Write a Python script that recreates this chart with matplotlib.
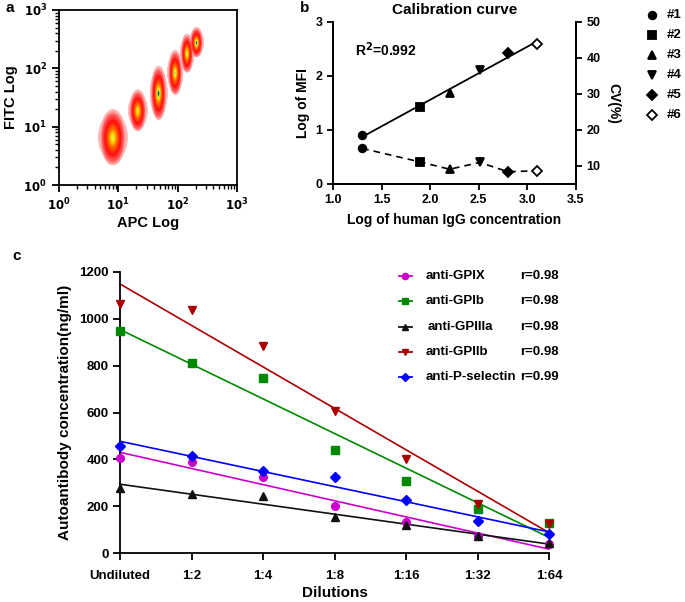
import numpy as np
import matplotlib
matplotlib.use('Agg')
import matplotlib.pyplot as plt
from matplotlib.colors import LinearSegmentedColormap
from matplotlib.ticker import LogLocator, NullFormatter, FixedLocator, FixedFormatter

plt.rcParams.update({
    'font.family': ['Liberation Sans', 'DejaVu Sans'],
    'font.weight': 'bold',
    'axes.labelweight': 'bold',
    'axes.linewidth': 1.3,
    'xtick.major.width': 1.3,
    'ytick.major.width': 1.3,
    'xtick.minor.width': 1.0,
    'ytick.minor.width': 1.0,
    'mathtext.default': 'bf',
})

W, H = 685, 602

# ---- panel a: bead clusters (log10 APC, log10 FITC, spread x, spread y)
clus_x = [0.91, 1.33, 1.68, 1.96, 2.16, 2.32]
clus_y = [0.82, 1.28, 1.58, 1.93, 2.26, 2.45]
clus_sx = [0.085, 0.055, 0.05, 0.045, 0.04, 0.04]
clus_sy = [0.19, 0.14, 0.18, 0.15, 0.13, 0.10]
clus_peak = [0.9, 0.9, 1.0, 0.95, 0.93, 1.0]

# ---- panel b: calibration curve
bead_names = ['#1', '#2', '#3', '#4', '#5', '#6']
bead_markers = ['o', 's', '^', 'v', 'D', 'D']
log_igg = [1.3, 1.9, 2.2, 2.51, 2.8, 3.1]
log_mfi = [0.91, 1.42, 1.68, 2.11, 2.42, 2.60]
cv_pct = [14.9, 11.1, 9.1, 11.0, 8.4, 8.7]

# ---- panel c: dilution series
dilutions = ['Undiluted', '1:2', '1:4', '1:8', '1:16', '1:32', '1:64']
series_names = ['anti-GPIX', 'anti-GPIb', 'anti-GPIIIa', 'anti-GPIIb', 'anti-P-selectin']
series_r = ['r=0.98', 'r=0.98', 'r=0.98', 'r=0.98', 'r=0.99']
series_colors = ['#cc00cc', '#008800', '#111111', '#aa0000', '#0000ff']
series_markers = ['o', 's', '^', 'v', 'D']
gpix = [406, 390, 323, 201, 131, 73, 38]
gpib = [948, 813, 746, 440, 309, 187, 130]
gpiiia = [278, 253, 242, 154, 120, 73, 41]
gpiib = [1063, 1036, 885, 608, 400, 209, 124]
psel = [457, 414, 349, 323, 225, 135, 82]
series_vals = [gpix, gpib, gpiiia, gpiib, psel]


def box(l, t, r, b):
    return [l / W, 1 - b / H, (r - l) / W, (b - t) / H]


fig = plt.figure(figsize=(W / 100, H / 100), dpi=100)

# ================= a =================
ax1 = fig.add_axes(box(59, 10, 237, 185))
gx = np.linspace(0, 3, 600)
gy = np.linspace(0, 3, 600)
GX, GY = np.meshgrid(gx, gy)
dens = np.zeros_like(GX)
for cx, cy, sx, sy, pk in zip(clus_x, clus_y, clus_sx, clus_sy, clus_peak):
    core = pk * np.exp(-0.5 * (((GX - cx) / sx) ** 2 + ((GY - cy) / sy) ** 2))
    halo = 0.11 * np.exp(-0.5 * (((GX - cx) / (2.0 * sx)) ** 2 + ((GY - cy) / (1.5 * sy)) ** 2))
    dens = np.maximum(dens, np.maximum(core, halo))
dens = np.ma.masked_less(dens, 0.04)
flow_cmap = LinearSegmentedColormap.from_list('flow', [
    (0.0, '#ffc0c0'), (0.06, '#ff6060'), (0.25, '#ff1010'), (0.65, '#ff7a00'),
    (0.83, '#ffd800'), (0.92, '#e8ff50'), (0.97, '#40c870'), (1.0, '#1030a0')])
ax1.pcolormesh(10 ** gx, 10 ** gy, dens, cmap=flow_cmap, vmin=0.04, vmax=1.0,
               shading='gouraud', rasterized=True)
ax1.set_xscale('log')
ax1.set_yscale('log')
ax1.set_xlim(1, 1000)
ax1.set_ylim(1, 1000)
dec = [1, 10, 100, 1000]
dec_lbl = [r'$\mathbf{10^{0}}$', r'$\mathbf{10^{1}}$', r'$\mathbf{10^{2}}$', r'$\mathbf{10^{3}}$']
for axis in (ax1.xaxis, ax1.yaxis):
    axis.set_major_locator(FixedLocator(dec))
    axis.set_major_formatter(FixedFormatter(dec_lbl))
    axis.set_minor_locator(LogLocator(base=10, subs=np.arange(2, 10), numticks=10))
    axis.set_minor_formatter(NullFormatter())
ax1.tick_params(which='major', length=5, labelsize=8.5)
ax1.tick_params(which='minor', length=3)
ax1.set_xlabel('APC Log', fontsize=10.5, labelpad=2)
ax1.set_ylabel('FITC Log', fontsize=10.5, labelpad=4)
fig.text(5 / W, 1 - 8 / H, 'a', fontsize=11, fontweight='bold', va='center')

# ================= b =================
ax2 = fig.add_axes(box(333, 22, 576, 184))
ax2b = ax2.twinx()
coef = np.polyfit(log_igg, log_mfi, 1)
xfit = np.array([log_igg[0], log_igg[-1]])
ax2.plot(xfit, np.polyval(coef, xfit), color='black', lw=1.3)
ax2b.plot(log_igg, cv_pct, color='black', lw=1.2, ls=(0, (4, 3)))
for i, m in enumerate(bead_markers):
    fc = 'white' if i == 5 else 'black'
    ax2.plot(log_igg[i], log_mfi[i], marker=m, ms=5.5, mfc=fc, mec='black', mew=1.3,
             ls='none', zorder=5)
    ax2b.plot(log_igg[i], cv_pct[i], marker=m, ms=5.5, mfc=fc, mec='black', mew=1.3,
              ls='none', zorder=5)
ax2.set_xlim(1.0, 3.5)
ax2.set_ylim(0, 3)
ax2.set_xticks(np.arange(1.0, 3.51, 0.5))
ax2.set_xticklabels([f'{v:.1f}' for v in np.arange(1.0, 3.51, 0.5)])
ax2.set_yticks([0, 1, 2, 3])
ax2b.set_ylim(5, 50)
ax2b.set_yticks([10, 20, 30, 40, 50])
for a in (ax2, ax2b):
    a.spines['top'].set_visible(False)
    a.tick_params(length=4, labelsize=9)
ax2.set_xlabel('Log of human IgG concentration', fontsize=10, labelpad=5)
ax2.set_ylabel('Log of MFI', fontsize=10, labelpad=4)
ax2b.set_ylabel('CV(%)', fontsize=10, rotation=270, labelpad=14)
ax2.set_title('Calibration curve', fontsize=11, fontweight='bold', pad=6)
ax2.text(0.09, 0.79, r'R$^{2}$=0.992', transform=ax2.transAxes, fontsize=10,
         fontweight='bold')
fig.text(300 / W, 1 - 8 / H, 'b', fontsize=11, fontweight='bold', va='center')

# ================= c =================
ax3 = fig.add_axes(box(120, 272, 549, 553))
xpos = np.arange(len(dilutions))
for vals, col, m in zip(series_vals, series_colors, series_markers):
    c = np.polyfit(xpos, vals, 1)
    ax3.plot(xpos, np.polyval(c, xpos), color=col, lw=1.2, clip_on=False)
    ax3.plot(xpos, vals, ls='none', marker=m, ms=5.5, color=col, clip_on=False, zorder=5)
ax3.set_xlim(0, 6)
ax3.set_ylim(0, 1200)
ax3.set_xticks(xpos)
ax3.set_xticklabels(dilutions)
ax3.set_yticks(np.arange(0, 1201, 200))
ax3.spines['top'].set_visible(False)
ax3.spines['right'].set_visible(False)
ax3.tick_params(length=5, labelsize=9.5)
ax3.tick_params(axis='x', pad=7)
ax3.tick_params(axis='y', pad=3)
ax3.set_xlabel('Dilutions', fontsize=11, labelpad=3)
ax3.set_ylabel('Autoantibody concentration(ng/ml)', fontsize=11, labelpad=5)
fig.text(12 / W, 1 - 256 / H, 'c', fontsize=11, fontweight='bold', va='center')

# legends drawn in pixel coords on a transparent overlay
ov = fig.add_axes([0, 0, 1, 1], zorder=10)
ov.set_xlim(0, W)
ov.set_ylim(H, 0)
ov.axis('off')
for i, (nm, m) in enumerate(zip(bead_names, bead_markers)):
    yy = 15 + 20 * i
    fc = 'white' if i == 5 else 'black'
    ov.plot(652, yy, marker=m, ms=5.5, mfc=fc, mec='black', mew=1.3)
    ov.text(667, yy, nm, fontsize=9.5, fontweight='bold', va='center')

for i, (nm, rr, col, m) in enumerate(zip(series_names, series_r, series_colors, series_markers)):
    yy = 276 + 25.3 * i
    ov.plot([399, 412], [yy, yy], color=col, lw=1.3)
    ov.plot(405.5, yy, marker=m, ms=4.5, color=col)
    ov.text(426 if i != 2 else 427.5, yy, nm, fontsize=9.5, fontweight='bold', va='center')
    ov.text(520, yy, rr, fontsize=9.5, fontweight='bold', va='center')

fig.savefig('out.png', dpi=100)
